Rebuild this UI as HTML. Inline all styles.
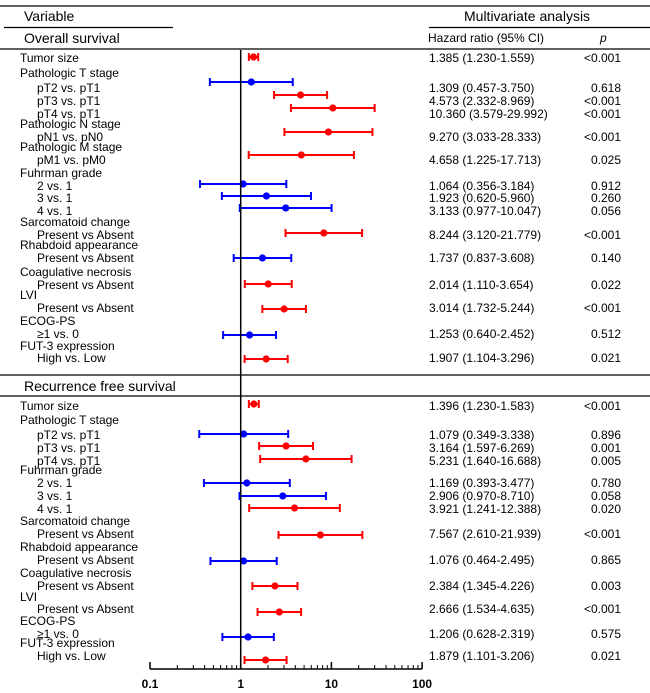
<!DOCTYPE html>
<html><head><meta charset="utf-8">
<style>
html,body{margin:0;padding:0;background:#fff;}
svg{display:block;font-family:"Liberation Sans",Arial,sans-serif;}
</style></head>
<body>
<svg id="chart" width="650" height="693" viewBox="0 0 650 693" xmlns="http://www.w3.org/2000/svg">
<g id="static" fill="#000" font-size="12">
  <line x1="0" y1="6" x2="650" y2="6" stroke="#000" stroke-width="1.3"/>
  <text x="24" y="21" font-size="14">Variable</text>
  <text x="464" y="21" font-size="14">Multivariate analysis</text>
  <line x1="4" y1="27.5" x2="173" y2="27.5" stroke="#000" stroke-width="1.2"/>
  <line x1="429" y1="27.5" x2="650" y2="27.5" stroke="#000" stroke-width="1.2"/>
  <text x="24" y="43" font-size="14">Overall survival</text>
  <text x="428" y="42" font-size="12">Hazard ratio (95% CI)</text>
  <text x="600" y="42" font-size="12" font-style="italic">p</text>
  <line x1="0" y1="49" x2="650" y2="49" stroke="#000" stroke-width="1.2"/>
  <line x1="0" y1="375" x2="650" y2="375" stroke="#000" stroke-width="1.2"/>
  <text x="24" y="391" font-size="14">Recurrence free survival</text>
  <line x1="0" y1="396" x2="650" y2="396" stroke="#000" stroke-width="1.2"/>
</g>
<g id="labels" font-size="12"></g>
<g id="marks"></g>
<g id="axis"></g>
</svg>
<script>
// group/variable labels: [text, y, indent]
const labelText = ["Tumor size","Pathologic T stage","pT2 vs. pT1","pT3 vs. pT1","pT4 vs. pT1","Pathologic N stage","pN1 vs. pN0","Pathologic M stage","pM1 vs. pM0","Fuhrman grade","2 vs. 1","3 vs. 1","4 vs. 1","Sarcomatoid change","Present vs Absent","Rhabdoid appearance","Present vs Absent","Coagulative necrosis","Present vs Absent","LVI","Present vs Absent","ECOG-PS","\u22651 vs. 0","FUT-3 expression","High vs. Low",
"Tumor size","Pathologic T stage","pT2 vs. pT1","pT3 vs. pT1","pT4 vs. pT1","Fuhrman grade","2 vs. 1","3 vs. 1","4 vs. 1","Sarcomatoid change","Present vs Absent","Rhabdoid appearance","Present vs Absent","Coagulative necrosis","Present vs Absent","LVI","Present vs Absent","ECOG-PS","\u22651 vs. 0","FUT-3 expression","High vs. Low"];
const labelY = [62,77,92,105,118,128,141,151,164,177,190,202,215,226,239,249,262,276,289,299,312,325,338,350,362,
410,424,439,452,465,474,487,500,513,525,538,551,564,577,590,601,613,625,638,647,660];
const labelIndent = [0,0,1,1,1,0,1,0,1,0,1,1,1,0,1,0,1,0,1,0,1,0,1,0,1,
0,0,1,1,1,0,1,1,1,0,1,0,1,0,1,0,1,0,1,0,1];

// estimates
const hr  = [1.385,1.309,4.573,10.360,9.270,4.658,1.064,1.923,3.133,8.244,1.737,2.014,3.014,1.253,1.907,
             1.396,1.079,3.164,5.231,1.169,2.906,3.921,7.567,1.076,2.384,2.666,1.206,1.879];
const lo  = [1.230,0.457,2.332,3.579,3.033,1.225,0.356,0.620,0.977,3.120,0.837,1.110,1.732,0.640,1.104,
             1.230,0.349,1.597,1.640,0.393,0.970,1.241,2.610,0.464,1.345,1.534,0.628,1.101];
const hi  = [1.559,3.750,8.969,29.992,28.333,17.713,3.184,5.960,10.047,21.779,3.608,3.654,5.244,2.452,3.296,
             1.583,3.338,6.269,16.688,3.477,8.710,12.388,21.939,2.495,4.226,4.635,2.319,3.206];
const pval = ["<0.001","0.618","<0.001","<0.001","<0.001","0.025","0.912","0.260","0.056","<0.001","0.140","0.022","<0.001","0.512","0.021",
              "<0.001","0.896","0.001","0.005","0.780","0.058","0.020","<0.001","0.865","0.003","<0.001","0.575","0.021"];
const pNum = [0.0005,0.618,0.0005,0.0005,0.0005,0.025,0.912,0.260,0.056,0.0005,0.140,0.022,0.0005,0.512,0.021,
              0.0005,0.896,0.001,0.005,0.780,0.058,0.020,0.0005,0.865,0.003,0.0005,0.575,0.021];
const markerY = [57,82,95,108,132,155,184,196,208,233,258,284,309,335,359,
                 404,434,446,459,483,496,508,535,561,586,612,637,660];
const textY = [62,92,105,118,141,164,190,202,215,239,262,289,312,338,362,
               410,439,452,465,487,500,513,538,564,590,613,638,660];
const tickLabels = ["0.1","1","10","100"];
const tickVals = [0.1,1,10,100];

const NS="http://www.w3.org/2000/svg";
const X0=150, PXD=90.7;
function xs(v){return X0+(Math.log10(v)+1)*PXD;}
function mk(tag,attrs,parent){const e=document.createElementNS(NS,tag);for(const k in attrs)e.setAttribute(k,attrs[k]);parent.appendChild(e);return e;}
const fmt=v=>v.toFixed(3);

const L=document.getElementById('labels');
labelText.forEach((t,i)=>{
  const e=mk('text',{x:labelIndent[i]?37:20,y:labelY[i]},L);
  
  
  e.textContent=t;
});

const M=document.getElementById('marks');
const AX=document.getElementById('axis');
// reference line at HR=1
const ref=mk('line',{x1:xs(1),y1:50,x2:xs(1),y2:669,stroke:'#000','stroke-width':1.5},AX);



hr.forEach((h,i)=>{
  const col=pNum[i]<0.05?'#ff0000':'#0000ff';
  const y=markerY[i];
  const g=mk('g',{},M);
  
  
  mk('line',{x1:xs(lo[i]),y1:y,x2:xs(hi[i]),y2:y,stroke:col,'stroke-width':2},g);
  mk('line',{x1:xs(lo[i]),y1:y-4,x2:xs(lo[i]),y2:y+4,stroke:col,'stroke-width':2},g);
  mk('line',{x1:xs(hi[i]),y1:y-4,x2:xs(hi[i]),y2:y+4,stroke:col,'stroke-width':2},g);
  mk('circle',{cx:xs(h),cy:y,r:3.6,fill:col},g);
  const t=mk('text',{x:429,y:textY[i],'font-size':12},M);
  
  
  t.textContent=(h>=10?h.toFixed(3):fmt(h))+" ("+fmt(lo[i])+"-"+fmt(hi[i])+")";
  const p=mk('text',{x:621,y:textY[i],'font-size':12,'text-anchor':'end'},M);
  
  
  p.textContent=pval[i];
});

// x axis
const axl=mk('line',{x1:xs(0.1),y1:669,x2:xs(100),y2:669,stroke:'#000','stroke-width':1.5},AX);


for(let d=0;d<3;d++){
  for(let k=2;k<10;k++){
    const v=tickVals[d]*k;
    mk('line',{x1:xs(v),y1:669,x2:xs(v),y2:665,stroke:'#000','stroke-width':1},AX);
  }
}
tickVals.forEach((v,i)=>{
  mk('line',{x1:xs(v),y1:669,x2:xs(v),y2:662,stroke:'#000','stroke-width':1.5},AX);
  const t=mk('text',{x:xs(v),y:688,'text-anchor':'middle','font-size':12,'font-weight':'bold'},AX);
  
  
  t.textContent=tickLabels[i];
});
</script>
</body></html>
